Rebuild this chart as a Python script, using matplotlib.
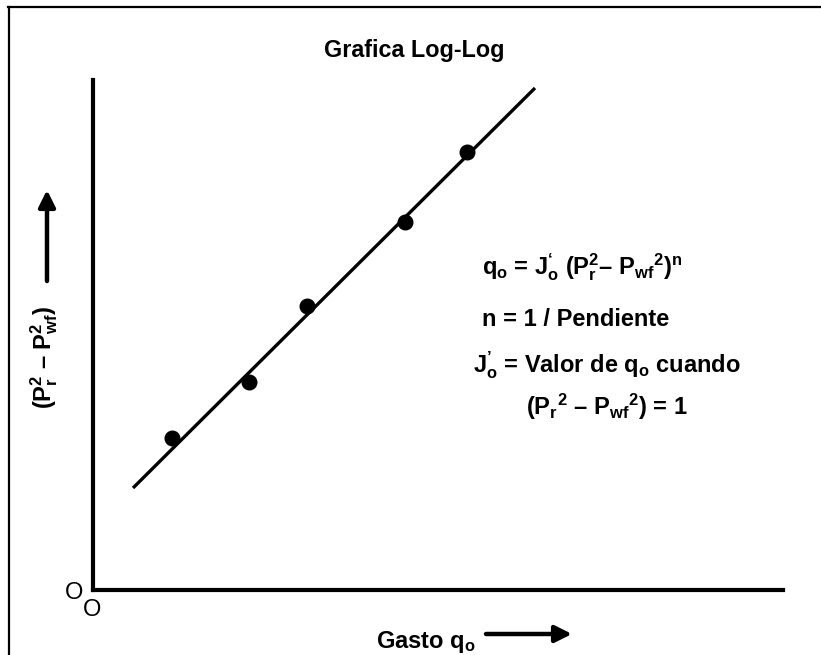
import matplotlib
matplotlib.use("Agg")
import matplotlib.pyplot as plt
from matplotlib.lines import Line2D
import numpy as np

# ---- data (arbitrary units, log-log sketch) ----
gasto_pts = [79, 156, 214, 312, 374]
dp_pts = [152, 208, 284, 368, 438]
line_x = [40, 442]
line_y = [102, 502]

title = "Grafica Log-Log"
xlabel = r"Gasto q$_o$"
ylabel = r"(P$_r^2$ – P$_{wf}^2$)"
eq_lines = [
    r"q$_o$ = J$^{‘}_o$ (P$_r^2$– P$_{wf}$$^2$)$^n$",
    r"n = 1 / Pendiente",
    r"J$^{’}_o$ = Valor de q$_o$ cuando",
    r"(P$_r$$^2$ – P$_{wf}$$^2$) = 1",
]

plt.rcParams['font.family'] = ['Liberation Sans', 'DejaVu Sans']
plt.rcParams['mathtext.fontset'] = 'custom'
plt.rcParams['mathtext.rm'] = 'Liberation Sans:bold'
plt.rcParams['mathtext.it'] = 'Liberation Sans:bold'
plt.rcParams['mathtext.bf'] = 'Liberation Sans:bold'
plt.rcParams['mathtext.sf'] = 'Liberation Sans:bold'

W, H = 821, 655
fig = plt.figure(figsize=(W / 100, H / 100), dpi=100)
fig.patch.set_facecolor('white')

def fx(px):
    return px / W

def fy(py):
    return 1 - py / H

ax = fig.add_axes([fx(93), fy(590), (783 - 93) / W, (590 - 80) / H])
ax.set_xlim(0, 690)
ax.set_ylim(0, 510)
for s in ['top', 'right']:
    ax.spines[s].set_visible(False)
for s in ['left', 'bottom']:
    ax.spines[s].set_linewidth(3)
    ax.spines[s].set_color('black')
ax.set_xticks([])
ax.set_yticks([])
ax.patch.set_alpha(0)

ax.plot(line_x, line_y, color='black', lw=2.4, solid_capstyle='butt', clip_on=False)
ax.plot(gasto_pts, dp_pts, 'o', color='black', ms=10.5, clip_on=False)

# outer frame (top and left)
fig.add_artist(Line2D([fx(8), fx(821)], [fy(7), fy(7)], color='black', lw=1.6,
                      transform=fig.transFigure))
fig.add_artist(Line2D([fx(9), fx(9)], [fy(7), fy(655)], color='black', lw=1.6,
                      transform=fig.transFigure))

fig.text(fx(414), fy(57), title, ha='center', va='baseline', fontsize=16.8,
         fontweight='bold')

for txt, x, y in zip(eq_lines, [482, 482, 473, 526], [274, 326, 372, 415]):
    fig.text(fx(x), fy(y), txt, ha='left', va='baseline', fontsize=17,
             fontweight='bold')

# x label + arrow
fig.text(fx(376), fy(648), xlabel, ha='left', va='baseline', fontsize=17,
         fontweight='bold')
ax.annotate('', xy=(fx(572), fy(634)), xytext=(fx(486), fy(634)),
            xycoords='figure fraction',
            arrowprops=dict(arrowstyle='-|>,head_length=1.0,head_width=0.5',
                            lw=3.2, color='black', shrinkA=0, shrinkB=0))

# y label + arrow
fig.text(fx(44), fy(357), ylabel, ha='center', va='center', rotation=90,
         fontsize=17, fontweight='bold')
ax.annotate('', xy=(fx(47), fy(190)), xytext=(fx(47), fy(281)),
            xycoords='figure fraction',
            arrowprops=dict(arrowstyle='-|>,head_length=1.0,head_width=0.5',
                            lw=3.2, color='black', shrinkA=0, shrinkB=0))

# origin "O" marks
fig.text(fx(74), fy(599), "O", ha='center', va='baseline', fontsize=17)
fig.text(fx(92), fy(616), "O", ha='center', va='baseline', fontsize=17)

fig.savefig("out.png", dpi=100)
